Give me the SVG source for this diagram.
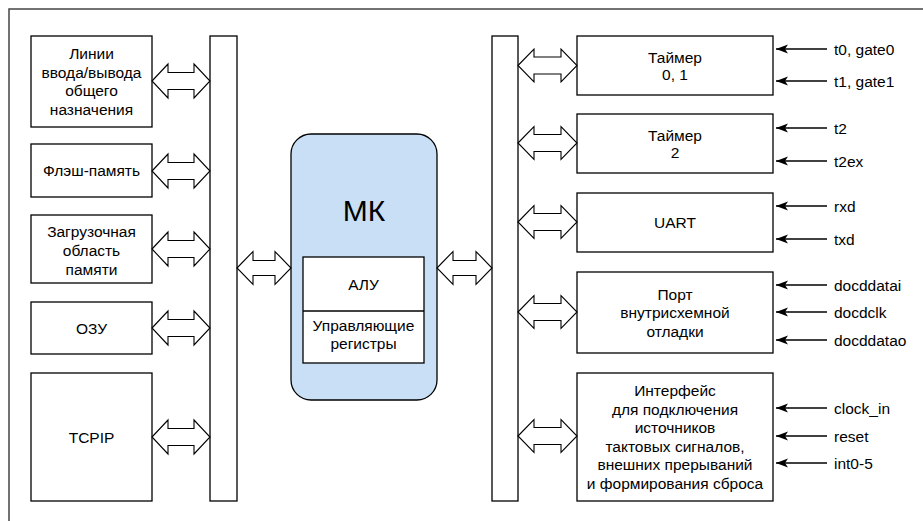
<svg xmlns="http://www.w3.org/2000/svg" width="923" height="521" viewBox="0 0 923 521">
<style>
.box{fill:#fff;stroke:#000;stroke-width:1.3}
.bus{fill:#fff;stroke:#000;stroke-width:1.3}
.dar{fill:#fff;stroke:#000;stroke-width:1.1;stroke-linejoin:miter}
.t{font-family:"Liberation Sans",Arial,sans-serif;font-size:15.5px;fill:#000;text-anchor:middle;dominant-baseline:central}
.lbl{font-family:"Liberation Sans",Arial,sans-serif;font-size:15.5px;fill:#000;dominant-baseline:central}
.in{stroke:#000;stroke-width:1.3}
</style>
<defs>
<marker id="ah" viewBox="0 0 12 10" refX="12" refY="5" markerWidth="12" markerHeight="10" markerUnits="userSpaceOnUse" orient="auto">
<path d="M12,5 L0,0.5 L3,5 L0,9.5 Z" fill="#000"/>
</marker>
</defs>
<rect x="9" y="9" width="1000" height="1000" fill="#fff" stroke="#444" stroke-width="1.5"/>

<g id="bus-left"><rect class="bus" x="210" y="36" width="27" height="465"/></g>
<g id="bus-right"><rect class="bus" x="492" y="36" width="26" height="465"/></g>

<g id="io"><rect class="box" x="31" y="36" width="121" height="91"/>
<text class="t" x="91.5" y="53.5">Линии</text><text class="t" x="91.5" y="72">ввода/вывода</text><text class="t" x="91.5" y="90.5">общего</text><text class="t" x="91.5" y="109">назначения</text></g>
<g id="flash"><rect class="box" x="31" y="144" width="121" height="53"/>
<text class="t" x="91.5" y="170.5">Флэш-память</text></g>
<g id="boot"><rect class="box" x="31" y="215" width="121" height="68"/>
<text class="t" x="91.5" y="231">Загрузочная</text><text class="t" x="91.5" y="250">область</text><text class="t" x="91.5" y="269">памяти</text></g>
<g id="ram"><rect class="box" x="31" y="302" width="121" height="52"/>
<text class="t" x="91.5" y="328">ОЗУ</text></g>
<g id="tcpip"><rect class="box" x="31" y="373" width="121" height="128"/>
<text class="t" x="91.5" y="437">TCPIP</text></g>

<g id="mk"><rect x="291" y="134" width="146" height="266" rx="20" ry="20" fill="#c9dff5" stroke="#000" stroke-width="1.3"/>
<text class="t" x="364" y="210" style="font-size:30px">МК</text>
<rect class="box" x="303" y="257" width="121" height="106"/>
<line x1="303" y1="311" x2="424" y2="311" stroke="#000" stroke-width="1.3"/>
<text class="t" x="363.5" y="284">АЛУ</text>
<text class="t" x="363.5" y="325">Управляющие</text><text class="t" x="363.5" y="343">регистры</text></g>

<g id="timer01"><rect class="box" x="577" y="36" width="196" height="59"/>
<text class="t" x="675" y="57">Таймер</text><text class="t" x="675" y="74">0, 1</text></g>
<g id="timer2"><rect class="box" x="577" y="114" width="196" height="59"/>
<text class="t" x="675" y="135">Таймер</text><text class="t" x="675" y="152">2</text></g>
<g id="uart"><rect class="box" x="577" y="193" width="196" height="59"/>
<text class="t" x="675" y="222">UART</text></g>
<g id="port"><rect class="box" x="577" y="272" width="196" height="81"/>
<text class="t" x="675" y="294">Порт</text><text class="t" x="675" y="312.5">внутрисхемной</text><text class="t" x="675" y="331">отладки</text></g>
<g id="iface"><rect class="box" x="577" y="373" width="196" height="128"/>
<text class="t" x="675" y="390.5">Интерфейс</text><text class="t" x="675" y="409">для подключения</text><text class="t" x="675" y="427.5">источников</text><text class="t" x="675" y="446">тактовых сигналов,</text><text class="t" x="675" y="464.5">внешних прерываний</text><text class="t" x="675" y="483">и формирования сброса</text></g>

<g id="connectors">
<path class="dar" d="M152,81 L168,64 L168,72.5 L194,72.5 L194,64 L210,81 L194,98 L194,89.5 L168,89.5 L168,98 Z"/>
<path class="dar" d="M152,171 L168,154 L168,162.5 L194,162.5 L194,154 L210,171 L194,188 L194,179.5 L168,179.5 L168,188 Z"/>
<path class="dar" d="M152,249 L168,232 L168,240.5 L194,240.5 L194,232 L210,249 L194,266 L194,257.5 L168,257.5 L168,266 Z"/>
<path class="dar" d="M152,328 L168,311 L168,319.5 L194,319.5 L194,311 L210,328 L194,345 L194,336.5 L168,336.5 L168,345 Z"/>
<path class="dar" d="M152,437 L168,420 L168,428.5 L194,428.5 L194,420 L210,437 L194,454 L194,445.5 L168,445.5 L168,454 Z"/>
<path class="dar" d="M237,268 L253,251.5 L253,260.5 L275,260.5 L275,251.5 L291,268 L275,284.5 L275,275.5 L253,275.5 L253,284.5 Z"/>
<path class="dar" d="M437,268 L453,251.5 L453,260.5 L476,260.5 L476,251.5 L492,268 L476,284.5 L476,275.5 L453,275.5 L453,284.5 Z"/>
<path class="dar" d="M518,65.5 L534,49 L534,57 L561,57 L561,49 L577,65.5 L561,82 L561,74 L534,74 L534,82 Z"/>
<path class="dar" d="M518,143 L534,126.5 L534,134.5 L561,134.5 L561,126.5 L577,143 L561,159.5 L561,151.5 L534,151.5 L534,159.5 Z"/>
<path class="dar" d="M518,222 L534,205.5 L534,213.5 L561,213.5 L561,205.5 L577,222 L561,238.5 L561,230.5 L534,230.5 L534,238.5 Z"/>
<path class="dar" d="M518,312 L534,295.5 L534,303.5 L561,303.5 L561,295.5 L577,312 L561,328.5 L561,320.5 L534,320.5 L534,328.5 Z"/>
<path class="dar" d="M518,436 L534,419.5 L534,427.5 L561,427.5 L561,419.5 L577,436 L561,452.5 L561,444.5 L534,444.5 L534,452.5 Z"/>
<line class="in" x1="827" y1="49" x2="776" y2="49" marker-end="url(#ah)"/>
<line class="in" x1="827" y1="81" x2="776" y2="81" marker-end="url(#ah)"/>
<line class="in" x1="827" y1="128" x2="776" y2="128" marker-end="url(#ah)"/>
<line class="in" x1="827" y1="161" x2="776" y2="161" marker-end="url(#ah)"/>
<line class="in" x1="827" y1="206" x2="776" y2="206" marker-end="url(#ah)"/>
<line class="in" x1="827" y1="239" x2="776" y2="239" marker-end="url(#ah)"/>
<line class="in" x1="827" y1="285" x2="776" y2="285" marker-end="url(#ah)"/>
<line class="in" x1="827" y1="312" x2="776" y2="312" marker-end="url(#ah)"/>
<line class="in" x1="827" y1="340" x2="776" y2="340" marker-end="url(#ah)"/>
<line class="in" x1="827" y1="408" x2="776" y2="408" marker-end="url(#ah)"/>
<line class="in" x1="827" y1="436" x2="776" y2="436" marker-end="url(#ah)"/>
<line class="in" x1="827" y1="463" x2="776" y2="463" marker-end="url(#ah)"/>
</g>

<g id="labels">
<text class="lbl" x="834" y="49">t0, gate0</text>
<text class="lbl" x="834" y="81">t1, gate1</text>
<text class="lbl" x="834" y="128">t2</text>
<text class="lbl" x="834" y="161">t2ex</text>
<text class="lbl" x="834" y="206">rxd</text>
<text class="lbl" x="834" y="239">txd</text>
<text class="lbl" x="834" y="285">docddatai</text>
<text class="lbl" x="834" y="312">docdclk</text>
<text class="lbl" x="834" y="340">docddatao</text>
<text class="lbl" x="834" y="408">clock_in</text>
<text class="lbl" x="834" y="436">reset</text>
<text class="lbl" x="834" y="463">int0-5</text>
</g>
</svg>
